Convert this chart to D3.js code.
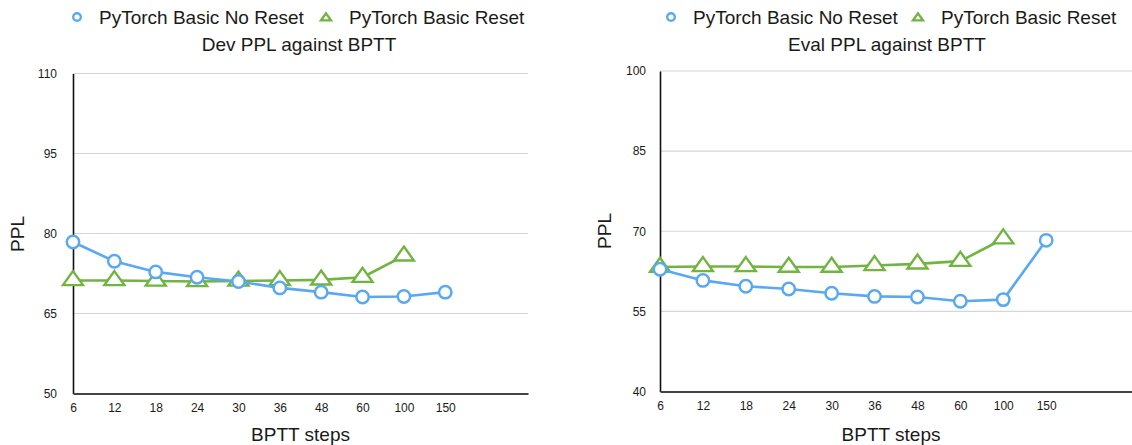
<!DOCTYPE html>
<html>
<head>
<meta charset="utf-8">
<script src="https://cdn.jsdelivr.net/npm/d3@7"></script>
<style>
  body { margin: 0; background: #fff; }
  svg text { font-family: "Liberation Sans", Arial, Helvetica, sans-serif; fill: #1a1a1a; }
</style>
</head>
<body>
<svg id="chart" width="1132" height="445"></svg>
<script>
// BPTT categories (x axis)
var categories = ["6", "12", "18", "24", "30", "36", "48", "60", "100", "150"];

// dev PPL
var devNoReset = [78.4, 74.8, 72.8, 71.8, 71.0, 69.8, 69.0, 68.1, 68.2, 69.0];
var devReset   = [71.2, 71.2, 71.1, 71.0, 71.1, 71.2, 71.3, 71.8, 75.8];
var devTicks   = [50, 65, 80, 95, 110];

// eval PPL
var evalNoReset = [62.9, 60.8, 59.7, 59.2, 58.4, 57.8, 57.7, 56.9, 57.2, 68.3];
var evalReset   = [63.3, 63.4, 63.4, 63.3, 63.3, 63.6, 63.9, 64.4, 68.6];
var evalTicks   = [40, 55, 70, 85, 100];

var seriesNames = ["PyTorch Basic No Reset", "PyTorch Basic Reset"];

var blue = "#5aa9f0", green = "#71b441";

var svg = d3.select("#chart");

function triPath(w, h) {
    // triangle centred on its centroid
    return "M0," + (-2 * h / 3) + "L" + (w / 2) + "," + (h / 3) + "L" + (-w / 2) + "," + (h / 3) + "Z";
}

function drawPanel(cfg) {
    var g = svg.append("g");

    var x = d3.scaleLinear().domain([0, 11]).range([cfg.left, cfg.right]);
    var y = d3.scaleLinear().domain([cfg.ticks[0], cfg.ticks[cfg.ticks.length - 1]])
        .range([cfg.bottom, cfg.top]);

    // grid
    g.selectAll(".grid").data(cfg.ticks.slice(1)).enter().append("line")
        .attr("x1", cfg.left).attr("x2", cfg.right)
        .attr("y1", function(d){ return y(d); }).attr("y2", function(d){ return y(d); })
        .attr("stroke", "#d6d6d6").attr("stroke-width", 1.2);

    // y axis
    var ya = g.append("g").attr("transform", "translate(" + cfg.left + ",0)")
        .call(d3.axisLeft(y).tickValues(cfg.ticks).tickSize(0).tickPadding(cfg.yPad));
    ya.select(".domain").attr("stroke", "#111").attr("stroke-width", 1.6);
    ya.selectAll("text").style("font-size", "12px").attr("fill", "#1a1a1a");

    // x axis
    var xa = g.append("g").attr("transform", "translate(0," + cfg.bottom + ")")
        .call(d3.axisBottom(x).tickValues(d3.range(categories.length))
            .tickFormat(function(i){ return categories[i]; }).tickSize(0).tickPadding(10));
    xa.select(".domain").attr("stroke", "#444").attr("stroke-width", 2.2);
    xa.selectAll("text").style("font-size", "12px").attr("fill", "#1a1a1a");

    // axis titles
    g.append("text").attr("x", (cfg.left + cfg.right) / 2 - 0.5 * (cfg.right - cfg.left) * 0 + cfg.xtOff)
        .attr("y", 441).attr("text-anchor", "middle").style("font-size", "19px").text("BPTT steps");
    g.append("text").attr("transform", "translate(" + cfg.ylX + "," + cfg.ylY + ") rotate(-90)")
        .attr("text-anchor", "middle").style("font-size", "19px").text("PPL");

    // title
    g.append("text").attr("x", cfg.titleX).attr("y", 51).attr("text-anchor", "middle")
        .style("font-size", "19px").text(cfg.title);

    // legend
    var lg = g.append("g");
    lg.append("circle").attr("cx", cfg.legX).attr("cy", 17).attr("r", 3.8)
        .attr("fill", "#fff").attr("stroke", blue).attr("stroke-width", 2.4);
    lg.append("text").attr("x", cfg.legX + 22).attr("y", 24).style("font-size", "19px").text(seriesNames[0]);
    lg.append("path").attr("d", triPath(10, 7)).attr("transform", "translate(" + cfg.legX2 + ",18)")
        .attr("fill", "#fff").attr("stroke", green).attr("stroke-width", 2.4);
    lg.append("text").attr("x", cfg.legX2 + 23).attr("y", 24).style("font-size", "19px").text(seriesNames[1]);

    var line = d3.line().x(function(d, i){ return x(i); }).y(function(d){ return y(d); });

    // reset series (drawn below)
    g.append("path").datum(cfg.reset).attr("d", line).attr("fill", "none")
        .attr("stroke", green).attr("stroke-width", 2.6).attr("stroke-linejoin", "round");
    g.selectAll(".tri").data(cfg.reset).enter().append("path")
        .attr("d", triPath(20, 14))
        .attr("transform", function(d, i){ return "translate(" + x(i) + "," + y(d) + ")"; })
        .attr("fill", "#fff").attr("stroke", green).attr("stroke-width", 2.4);

    // no reset series
    g.append("path").datum(cfg.noReset).attr("d", line).attr("fill", "none")
        .attr("stroke", blue).attr("stroke-width", 2.6).attr("stroke-linejoin", "round");
    g.selectAll(".dot").data(cfg.noReset).enter().append("circle")
        .attr("cx", function(d, i){ return x(i); }).attr("cy", function(d){ return y(d); })
        .attr("r", 6.2).attr("fill", "#fff").attr("stroke", blue).attr("stroke-width", 2.5);
}

drawPanel({
    left: 73, right: 528, top: 73.5, bottom: 393.5,
    ticks: devTicks, noReset: devNoReset, reset: devReset,
    yPad: 16, xtOff: 0, ylX: 24, ylY: 234,
    title: "Dev PPL against BPTT", titleX: 299, legX: 77, legX2: 326
});

drawPanel({
    left: 660, right: 1132, top: 71, bottom: 391.5,
    ticks: evalTicks, noReset: evalNoReset, reset: evalReset,
    yPad: 14, xtOff: -5, ylX: 611, ylY: 231,
    title: "Eval PPL against BPTT", titleX: 887, legX: 671, legX2: 918
});
</script>
</body>
</html>
